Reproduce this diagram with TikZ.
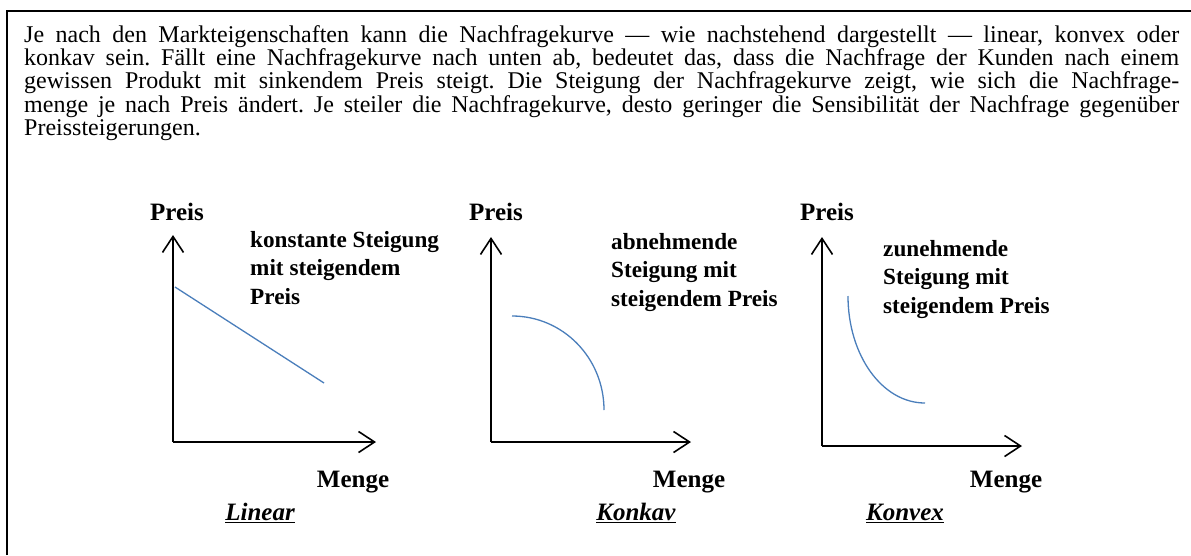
\documentclass[tikz,border=0pt]{standalone}
\usepackage{fontspec}
\setmainfont{Liberation Serif}
\usepackage{tikz}
\usetikzlibrary{positioning, arrows.meta}
\definecolor{curveblue}{RGB}{74, 126, 187}

\begin{document}
\begin{tikzpicture}[x=1pt, y=-1pt,
    every node/.style={inner sep=0pt},
    axis/.style={line width=1.6pt, -{Straight Barb[length=16pt, width=21pt, line width=1.6pt]}},
    curve/.style={line width=1.3pt, curveblue},
    lbl/.style={font=\fontsize{25}{30}\selectfont\bfseries},
    note/.style={font=\fontsize{23.2}{28.5}\selectfont\bfseries, align=left, anchor=north west},
    kind/.style={font=\fontsize{25}{30}\selectfont\bfseries\itshape}]
  \useasboundingbox (0,0) rectangle (1191,555);
  \fill[white] (0,0) rectangle (1191,555);

  % frame
  \coordinate (fbot) at (7,555);
  \coordinate (fcorner) at (7,11);
  \coordinate (fright) at (1191,11);
  \draw[line width=2.7pt] (fbot) -- (fcorner) -- (fright);

  % text
  \node[anchor=north west, text width=1155pt, align=justify,
        font=\fontsize{24}{23.3}\selectfont] (intro) at (24,25)
    {\hyphenpenalty=10000 \frenchspacing
     Je nach den Markteigenschaften kann die Nachfragekurve --- wie nachstehend dargestellt --- linear, konvex oder\linebreak
     konkav sein. Fällt eine Nachfragekurve nach unten ab, bedeutet das, dass die Nachfrage der Kunden nach einem\linebreak
     gewissen Produkt mit sinkendem Preis steigt. Die Steigung der Nachfragekurve zeigt, wie sich die Nachfrage-\linebreak
     menge je nach Preis ändert. Je steiler die Nachfragekurve, desto geringer die Sensibilität der Nachfrage gegenüber\linebreak
     Preissteigerungen.};

  % linear
  \coordinate (lin0) at (173,442);
  \coordinate (linup) at (173,235);
  \coordinate (linright) at (376,442);
  \coordinate (linA) at (175,287);
  \coordinate (linB) at (324,383);
  \draw[axis] (lin0) -- (linup);
  \draw[axis] (lin0) -- (linright);
  \draw[curve] (linA) -- (linB);
  \node[lbl] (linpreis) at (177,212) {Preis};
  \node[lbl] (linmenge) at (353,482) {Menge};
  \node[note] (linnote) at (250,231) {konstante Steigung\\mit steigendem\\Preis};
  \node[kind] (linname) at (260,513) {\underline{Linear}};

  % konkav
  \coordinate (kav0) at (491,442);
  \coordinate (kavup) at (491,237);
  \coordinate (kavright) at (691,442);
  \coordinate (kavA) at (512,316);
  \coordinate (kavB) at (604,410);
  \draw[axis] (kav0) -- (kavup);
  \draw[axis] (kav0) -- (kavright);
  \draw[curve] (kavA) .. controls (563,316) and (604,358) .. (kavB);
  \node[lbl] (kavpreis) at (496,212) {Preis};
  \node[lbl] (kavmenge) at (689,482) {Menge};
  \node[note] (kavnote) at (611,233) {abnehmende\\Steigung mit\\steigendem Preis};
  \node[kind] (kavname) at (636,513) {\underline{Konkav}};

  % konvex
  \coordinate (vex0) at (822,446);
  \coordinate (vexup) at (822,237);
  \coordinate (vexright) at (1022,446);
  \coordinate (vexA) at (848,296);
  \coordinate (vexB) at (925,403);
  \draw[axis] (vex0) -- (vexup);
  \draw[axis] (vex0) -- (vexright);
  \draw[curve] (vexA) .. controls (848,355) and (882,403) .. (vexB);
  \node[lbl] (vexpreis) at (827,212) {Preis};
  \node[lbl] (vexmenge) at (1006,482) {Menge};
  \node[note] (vexnote) at (883,240) {zunehmende\\Steigung mit\\steigendem Preis};
  \node[kind] (vexname) at (905,513) {\underline{Konvex}};
\end{tikzpicture}
\end{document}
